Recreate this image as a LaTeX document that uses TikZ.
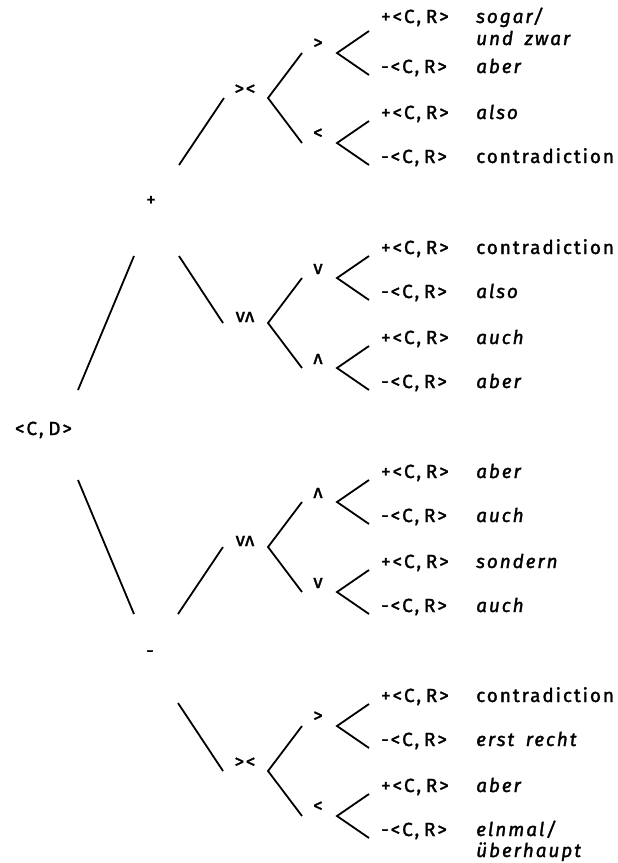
\documentclass[tikz,border=0pt]{standalone}
\usepackage{fontspec}
\setmainfont{Fira Sans}[LetterSpace=10,FakeBold=1.6]
\usepackage{graphicx}
\newcommand\myfork[5]{%
  \coordinate (#1-v) at (#2,#3);
  \coordinate (#1-t) at (#4,#3-#5);
  \coordinate (#1-b) at (#4,#3+#5);
  \draw[br] (#1-t) -- (#1-v) -- (#1-b);}
\newcommand\myleaf[5]{%
  \node[lf] (#1) at (381,#2) {#3<C,\hspace{0.25em}R>};
  \node[lf,#4] (#1w) at (476,#2) {#5};}
\newcommand\myand{\rotatebox[origin=c]{180}{v}}
\begin{document}
\begin{tikzpicture}[x=1pt,y=-1pt,
  br/.style={line width=1.8pt},
  txt/.style={inner sep=0pt, font=\fontsize{19}{22}\selectfont},
  sym/.style={txt, anchor=base},
  lf/.style={txt, anchor=base west},
  it/.style={font=\fontsize{19}{22}\selectfont\itshape},
  up/.style={}]
\useasboundingbox (0,0) rectangle (618,863);
% root
\node[sym] (cd) at (43.5,435) {<C,\hspace{0.25em}D>};
\node[sym] (p) at (151,206) {+};
\node[sym] (m) at (150,657) {-};
\coordinate (cd-u) at (78,390);
\coordinate (cd-d) at (78,480);
\coordinate (p-d) at (134,256);
\coordinate (m-u) at (134,614);
\draw[br] (cd-u) -- (p-d);
\draw[br] (cd-d) -- (m-u);
\coordinate (p-ur) at (179,165);
\coordinate (p-dr) at (179,256);
\coordinate (m-ur) at (178,614);
\coordinate (m-dr) at (178,703);
% level 2
\node[sym] (a) at (245,95) {>{}<};
\node[sym] (b) at (245,322) {v\myand};
\node[sym] (c) at (245,546) {v\myand};
\node[sym] (d) at (245,768) {>{}<};
\coordinate (a-in) at (224,98);
\coordinate (b-in) at (223,323);
\coordinate (c-in) at (223,547);
\coordinate (d-in) at (223,771);
\draw[br] (p-ur) -- (a-in);
\draw[br] (p-dr) -- (b-in);
\draw[br] (m-ur) -- (c-in);
\draw[br] (m-dr) -- (d-in);
\myfork{A}{268}{98}{302}{45}
\myfork{B}{268}{323}{302}{45}
\myfork{C}{268}{547}{302}{45}
\myfork{D}{268}{771}{302}{45}
% level 3
\node[sym] (a1) at (318,49) {>};
\node[sym] (a2) at (318,139) {<};
\node[sym] (b1) at (318,274) {v};
\node[sym] (b2) at (318,364) {\myand};
\node[sym] (c1) at (318,498) {\myand};
\node[sym] (c2) at (318,588) {v};
\node[sym] (d1) at (318,722) {>};
\node[sym] (d2) at (318,812) {<};
\myfork{A1}{337}{53}{369}{22}
\myfork{A2}{337}{143}{369}{22}
\myfork{B1}{337}{278}{369}{22}
\myfork{B2}{337}{368}{369}{22}
\myfork{C1}{337}{502}{369}{22}
\myfork{C2}{337}{592}{369}{22}
\myfork{D1}{337}{726}{369}{22}
\myfork{D2}{337}{816}{369}{22}
% leaves
\myleaf{a11}{23}{+}{it}{sogar/}
\node[lf,it] (a11x) at (476,45) {und\hspace{0.25em} zwar};
\myleaf{a12}{73}{-}{it}{aber}
\myleaf{a21}{119}{+}{it}{also}
\myleaf{a22}{163}{-}{up}{contradiction}
\myleaf{b11}{254}{+}{up}{contradiction}
\myleaf{b12}{298}{-}{it}{also}
\myleaf{b21}{344}{+}{it}{auch}
\myleaf{b22}{388}{-}{it}{aber}
\myleaf{c11}{478}{+}{it}{aber}
\myleaf{c12}{522}{-}{it}{auch}
\myleaf{c21}{568}{+}{it}{sondern}
\myleaf{c22}{612}{-}{it}{auch}
\myleaf{d11}{702}{+}{up}{contradiction}
\myleaf{d12}{746}{-}{it}{erst\hspace{0.25em} recht}
\myleaf{d21}{792}{+}{it}{aber}
\myleaf{d22}{836}{-}{it}{elnmal/}
\node[lf,it] (d22x) at (476,857) {überhaupt};
\end{tikzpicture}
\end{document}
